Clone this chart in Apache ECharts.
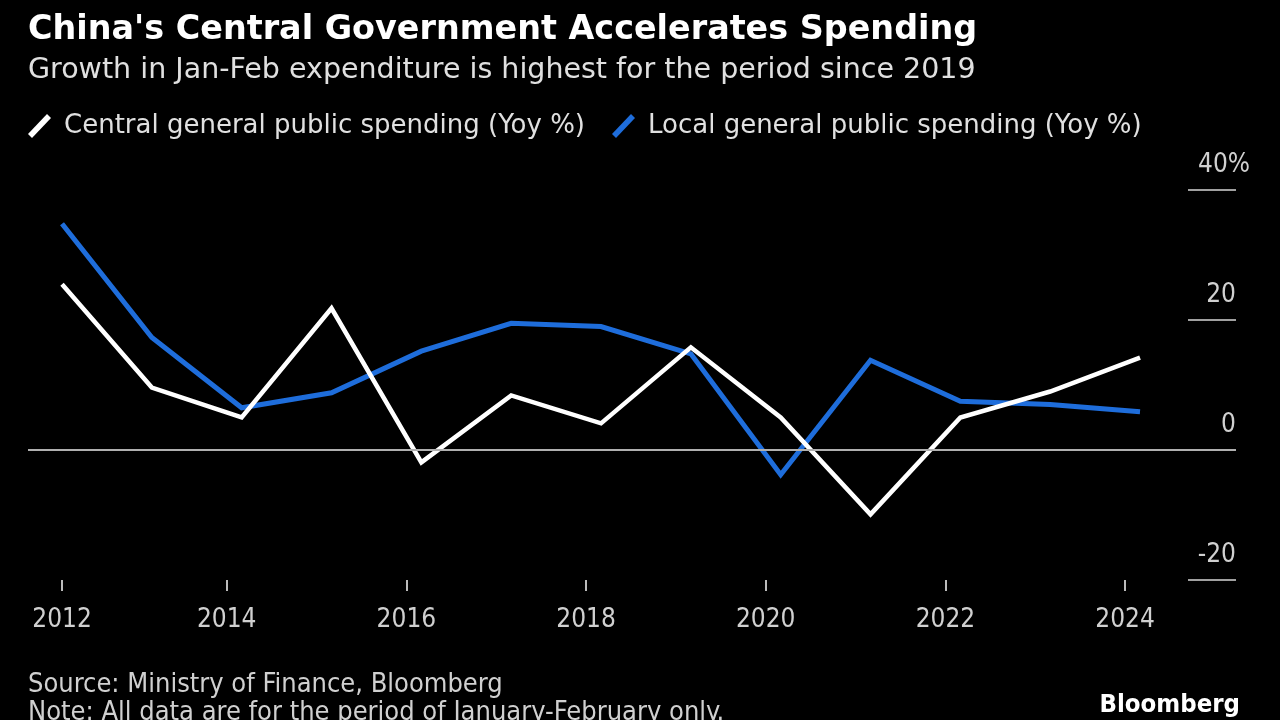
<!DOCTYPE html>
<html>
<head>
<meta charset="utf-8">
<script src="https://cdn.jsdelivr.net/npm/echarts@6/dist/echarts.min.js"></script>
<style>
html,body{margin:0;padding:0;background:#000;}
#c{width:1280px;height:720px;}
</style>
</head>
<body>
<div id="c"></div>
<script>
// Jan-Feb periods, 2012-2024
const years = [2012, 2013, 2014, 2015, 2016, 2017, 2018, 2019, 2020, 2021, 2022, 2023, 2024];
const centralSpending = [25.5, 9.6, 5.0, 21.8, -1.9, 8.4, 4.1, 15.8, 5.0, -9.9, 5.0, 9.0, 14.2];
const localSpending = [34.8, 17.3, 6.5, 8.8, 15.2, 19.5, 19.0, 14.8, -3.8, 13.8, 7.5, 7.0, 5.9];
const xTickYears = [2012, 2014, 2016, 2018, 2020, 2022, 2024];
const yMin = -20, yMax = 40, yStep = 20;

const FONT = '"DejaVu Sans", sans-serif';
const FONT_C = '"DejaVu Sans Condensed", "DejaVu Sans", sans-serif';
const PERIOD_END = 2 / 12; // Jan-Feb period plotted at end of February

const toX = y => y + PERIOD_END;
const centralData = years.map((y, i) => [toX(y), centralSpending[i]]);
const localData = years.map((y, i) => [toX(y), localSpending[i]]);
const xMin = 2011.788, xMax = 2025.235;
const tickVals = xTickYears.map((y, i) => i === 0 ? toX(y) : y);

const chart = echarts.init(document.getElementById('c'), null, {renderer: 'canvas'});
chart.setOption({
  backgroundColor: '#000',
  animation: false,
  title: [
    {
      text: "China's Central Government Accelerates Spending",
      left: 23, top: 9,
      textStyle: {color: '#fff', fontFamily: FONT, fontWeight: 'bold', fontSize: 33.4}
    },
    {
      text: 'Growth in Jan-Feb expenditure is highest for the period since 2019',
      left: 23, top: 51,
      textStyle: {color: '#e0e0e0', fontFamily: FONT, fontWeight: 'normal', fontSize: 28.5}
    }
  ],
  legend: {
    left: 23, top: 108, padding: 5,
    itemWidth: 25, itemHeight: 24, itemGap: 27,
    data: ['Central general public spending (Yoy %)', 'Local general public spending (Yoy %)'],
    icon: 'path://M0,20 L19,0 L23,4 L4,24 Z',
    textStyle: {color: '#e0e0e0', fontFamily: FONT, fontSize: 26, padding: [0, 0, 0, 7]}
  },
  grid: {left: 28, right: 44, top: 190, bottom: 140, containLabel: false},
  xAxis: {
    type: 'value', min: xMin, max: xMax,
    splitLine: {show: false},
    axisLine: {show: false, onZero: false},
    axisTick: {show: true, customValues: tickVals, length: 11, lineStyle: {color: '#bbb', width: 2}},
    axisLabel: {
      customValues: tickVals, margin: 27,
      color: '#d0d0d0', fontFamily: FONT_C, fontSize: 26,
      formatter: v => String(Math.floor(v))
    }
  },
  yAxis: {
    type: 'value', position: 'right', min: yMin, max: yMax, interval: yStep,
    splitLine: {show: false},
    axisLine: {show: false},
    axisTick: {show: true, inside: true, length: 48, lineStyle: {color: '#a0a0a0', width: 2}},
    axisLabel: {
      inside: true, margin: -14,
      verticalAlign: 'bottom',
      padding: [0, 0, 12, 0],
      color: '#d0d0d0', fontFamily: FONT_C, fontSize: 26,
      formatter: v => v === yMax ? v + '%' : v + '{s| }',
      rich: {s: {width: 14, fontSize: 26, fontFamily: FONT_C}}
    }
  },
  series: [
    {
      name: 'Local general public spending (Yoy %)',
      type: 'line', data: localData, showSymbol: false, z: 2,
      itemStyle: {color: '#1e6ddb'},
      lineStyle: {color: '#1e6ddb', width: 5, join: 'miter'},
      markLine: {
        silent: true, symbol: 'none', label: {show: false},
        lineStyle: {color: '#b0b0b0', width: 2, type: 'solid'},
        data: [{yAxis: 0}]
      }
    },
    {
      name: 'Central general public spending (Yoy %)',
      type: 'line', data: centralData, showSymbol: false, z: 3,
      itemStyle: {color: '#ffffff'},
      lineStyle: {color: '#ffffff', width: 4.5, join: 'miter'}
    }
  ],
  graphic: [
    {type: 'text', left: 28, top: 671, style: {text: 'Source: Ministry of Finance, Bloomberg', fill: '#d0d0d0', font: '27px ' + FONT_C}},
    {type: 'text', left: 28, top: 699, style: {text: 'Note: All data are for the period of January-February only.', fill: '#d0d0d0', font: '27px ' + FONT_C}},
    {type: 'text', right: 40, top: 692, style: {text: 'Bloomberg', fill: '#fff', font: 'bold 25.5px ' + FONT_C}}
  ]
});
</script>
</body>
</html>
